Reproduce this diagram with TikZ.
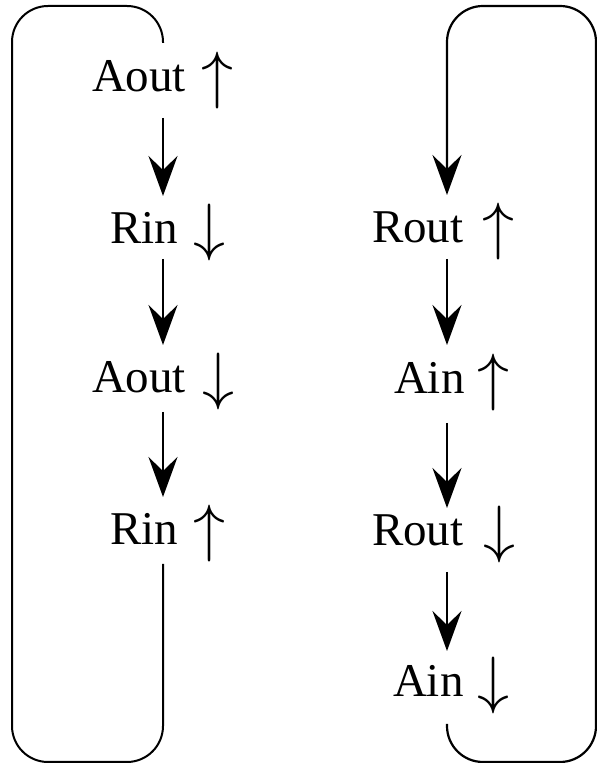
\documentclass[tikz,border=0pt]{standalone}
\usepackage{fontspec}
\setmainfont{Liberation Serif}
\usetikzlibrary{arrows.meta,calc}
\newcommand{\upar}{\scalebox{6.4}{$\uparrow$}}
\newcommand{\downar}{\scalebox{6.4}{$\downarrow$}}
\begin{document}
\begin{tikzpicture}[x=1pt,y=1pt,
  lbl/.style={anchor=base west, inner sep=0pt, outer sep=0pt, font=\fontsize{47}{50}\selectfont},
  sym/.style={anchor=center, inner sep=0pt, outer sep=0pt},
  tipstyle/.style={-{Stealth[length=40pt,width=29pt,inset=14pt]}},
  flow/.style={line width=2.2pt, tipstyle},
  loopline/.style={line width=2pt, rounded corners=36pt}]
\useasboundingbox (0,0) rectangle (597,763);
\coordinate (colL) at (163,0);
\coordinate (colR) at (447,0);
% left column
\node[lbl] (l1) at (92,671) {Aout};
\node[lbl] (l2) at (110,519) {Rin};
\node[lbl] (l3) at (92,370) {Aout};
\node[lbl] (l4) at (110,218) {Rin};
\node[sym] (s1) at (217.5,682.5) {\upar};
\node[sym] (s2) at (209.5,530.5) {\downar};
\node[sym] (s3) at (218,381.5) {\downar};
\node[sym] (s4) at (209.5,229.5) {\upar};
% right column
\node[lbl] (r1) at (372,520) {Rout};
\node[lbl] (r2) at (394,369) {Ain};
\node[lbl] (r3) at (372,217) {Rout};
\node[lbl] (r4) at (393,66) {Ain};
\node[sym] (t1) at (498.5,531.5) {\upar};
\node[sym] (t2) at (493,380.5) {\upar};
\node[sym] (t3) at (499,228.5) {\downar};
\node[sym] (t4) at (493.5,77.5) {\downar};
% connectors
\draw[flow] ($(l1.base -| colL)+(0,-26)$) -- ($(l2.base -| colL)+(0,48)$);
\draw[flow] ($(l2.base -| colL)+(0,-15)$) -- ($(l3.base -| colL)+(0,48)$);
\draw[flow] ($(l3.base -| colL)+(0,-19)$) -- ($(l4.base -| colL)+(0,48)$);
\draw[flow] ($(r1.base -| colR)+(0,-16)$) -- ($(r2.base -| colR)+(0,49)$);
\draw[flow] ($(r2.base -| colR)+(0,-29)$) -- ($(r3.base -| colR)+(0,38)$);
\draw[flow] ($(r3.base -| colR)+(0,-26)$) -- ($(r4.base -| colR)+(0,46)$);
% loops
\coordinate (lb1) at (163,1);
\coordinate (lb2) at (12,1);
\coordinate (lt2) at (12,757);
\coordinate (lt1) at (163,757);
\draw[loopline] ($(l4.base -| colL)+(0,-19)$) -- (lb1) -- (lb2) -- (lt2) -- (lt1) -- ($(l1.base -| colL)+(0,49)$);
\coordinate (rb1) at (447,1);
\coordinate (rb2) at (596,1);
\coordinate (rt2) at (596,757);
\coordinate (rt1) at (447,757);
\draw[loopline, line width=2.2pt, tipstyle] ($(r4.base -| colR)+(0,-27)$) -- (rb1) -- (rb2) -- (rt2) -- (rt1) -- ($(r1.base -| colR)+(0,48)$);
\end{tikzpicture}
\end{document}
